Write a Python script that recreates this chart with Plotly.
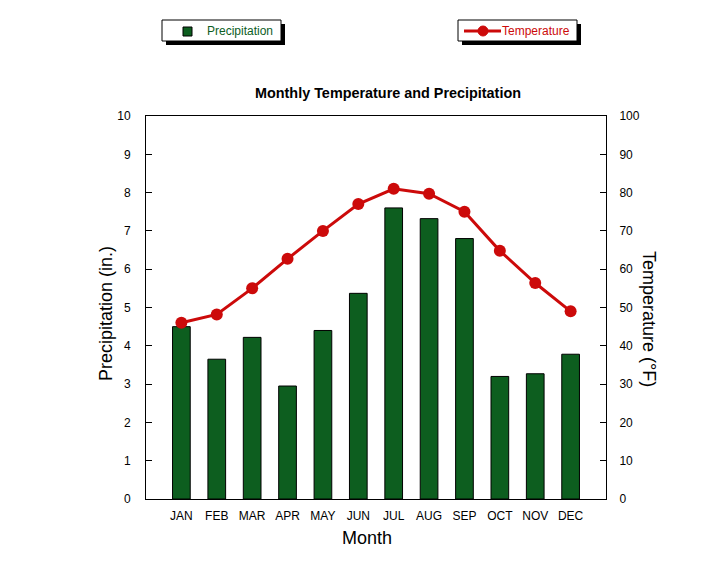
import plotly.graph_objects as go

months = ["JAN", "FEB", "MAR", "APR", "MAY", "JUN", "JUL", "AUG", "SEP", "OCT", "NOV", "DEC"]
precipitation = [4.5, 3.65, 4.22, 2.95, 4.4, 5.37, 7.6, 7.32, 6.8, 3.2, 3.27, 3.78]
temperature = [46, 48.2, 55, 62.7, 70, 77, 81, 79.7, 75, 64.8, 56.4, 49]

W, H = 726, 576
L, R, T, B = 145, 605, 115, 498
OFF = 7  # page offset

def px(x):
    return (x - L) / (R - L)

def py(y):
    return (B - y) / (B - T)

FONT = "Liberation Sans, Arial, sans-serif"
GREEN = "#0d5e1f"
RED = "#cc0a0a"

fig = go.Figure()
fig.add_trace(go.Bar(x=months, y=precipitation, width=0.5,
                     marker=dict(color=GREEN, line=dict(color="black", width=1)),
                     name="Precipitation", yaxis="y"))
fig.add_trace(go.Scatter(x=months, y=temperature, mode="lines+markers",
                         line=dict(color=RED, width=3),
                         marker=dict(size=12, color=RED, line=dict(color=RED, width=0)),
                         name="Temperature", yaxis="y2"))

shapes = []
annotations = []

# legend boxes with shadows
for (x0, x1, y0, y1) in [(161, 280, 19, 40), (457, 576, 19, 40)]:
    shapes.append(dict(type="rect", xref="paper", yref="paper",
                       x0=px(x0 + 4), x1=px(x1 + 4), y0=py(y1 + 4), y1=py(y0 + 4),
                       fillcolor="black", line=dict(width=0)))
    shapes.append(dict(type="rect", xref="paper", yref="paper",
                       x0=px(x0), x1=px(x1), y0=py(y1), y1=py(y0),
                       fillcolor="white", line=dict(color="black", width=1)))
# precipitation symbol
shapes.append(dict(type="rect", xref="paper", yref="paper",
                   x0=px(182), x1=px(191), y0=py(35), y1=py(26),
                   fillcolor=GREEN, line=dict(color="black", width=1)))
annotations.append(dict(x=px(204), y=py(30), xref="paper", yref="paper", xanchor="left",
                        yanchor="middle", showarrow=False, text="Precipitation",
                        font=dict(family=FONT, size=12, color=GREEN)))
# temperature symbol
shapes.append(dict(type="line", xref="paper", yref="paper",
                   x0=px(463), x1=px(500), y0=py(30), y1=py(30),
                   line=dict(color=RED, width=3)))
shapes.append(dict(type="circle", xref="paper", yref="paper",
                   x0=px(477), x1=px(487), y0=py(35), y1=py(25),
                   fillcolor=RED, line=dict(color=RED, width=1)))
annotations.append(dict(x=px(499), y=py(30), xref="paper", yref="paper", xanchor="left",
                        yanchor="middle", showarrow=False, text="Temperature",
                        font=dict(family=FONT, size=12, color=RED)))

# titles
annotations.append(dict(x=px(387), y=py(92), xref="paper", yref="paper", showarrow=False,
                        xanchor="center", yanchor="middle",
                        text="<b>Monthly Temperature and Precipitation</b>",
                        font=dict(family=FONT, size=14.4, color="black")))
annotations.append(dict(x=px(105), y=py(313), xref="paper", yref="paper", showarrow=False,
                        xanchor="center", yanchor="middle",
                        text="Precipitation (in.)", textangle=-90,
                        font=dict(family=FONT, size=18, color="black")))
annotations.append(dict(x=px(648), y=py(318), xref="paper", yref="paper", showarrow=False,
                        xanchor="center", yanchor="middle",
                        text="Temperature (°F)", textangle=90,
                        font=dict(family=FONT, size=18, color="black")))
annotations.append(dict(x=px(366), y=py(537), xref="paper", yref="paper", showarrow=False,
                        xanchor="center", yanchor="middle",
                        text="Month", font=dict(family=FONT, size=18, color="black")))

fig.update_layout(
    width=W, height=H,
    margin=dict(l=L - OFF, r=W - R + OFF, t=T - OFF, b=H - B + OFF, pad=0),
    paper_bgcolor="white", plot_bgcolor="white",
    showlegend=False,
    font=dict(family=FONT, size=12, color="black"),
    xaxis=dict(type="category", range=[-1, 12], showgrid=False, ticks="",
               showline=True, linecolor="black", linewidth=1, mirror=True,
               tickfont=dict(size=12), zeroline=False, ticklabelstandoff=6),
    yaxis=dict(range=[0, 10], dtick=1, showgrid=False, ticks="inside", ticklen=6,
               tickcolor="black", showline=True, linecolor="black", linewidth=1,
               zeroline=False, tickfont=dict(size=12), ticklabelstandoff=12),
    yaxis2=dict(range=[0, 100], dtick=10, overlaying="y", side="right", showgrid=False,
                ticks="inside", ticklen=6, tickcolor="black", showline=True,
                linecolor="black", linewidth=1, zeroline=False, tickfont=dict(size=12),
                ticklabelstandoff=10),
    shapes=shapes, annotations=annotations,
)

fig.write_html("out.html")
